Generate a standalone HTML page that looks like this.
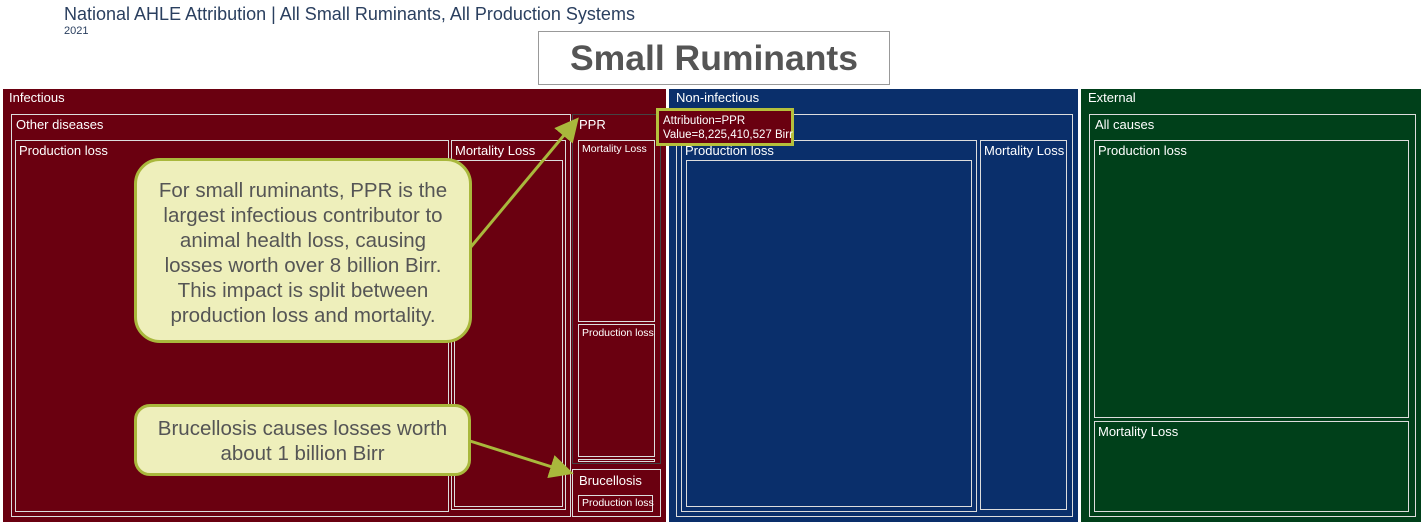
<!DOCTYPE html><html><head><style>
body{margin:0;width:1425px;height:524px;background:#fff;position:relative;overflow:hidden;font-family:"Liberation Sans",sans-serif}
.b{position:absolute;box-sizing:border-box;color:#fff}
.l{font-size:13px;padding:2px 0 0 4px;white-space:nowrap}
.w{border:1px solid #ddd}
.c{position:absolute;box-sizing:border-box;background:#eeefbb;border:3px solid #a9b83c;border-radius:26px;color:#555;font-size:20.5px;text-align:center;line-height:25px}
</style></head><body>
<div style="position:absolute;left:64px;top:4px;font-size:18px;color:#2a3f5f">National AHLE Attribution | All Small Ruminants, All Production Systems</div>
<div style="position:absolute;left:64px;top:25px;font-size:11px;color:#2a3f5f">2021</div>
<div style="position:absolute;left:538px;top:31px;width:352px;height:54px;box-sizing:border-box;border:1px solid #999;text-align:center;font-size:35.5px;font-weight:bold;color:#555;line-height:52px">Small Ruminants</div>

<div class="b" style="left:3px;top:89px;width:663px;height:433px;background:#6a0010"><div class="l" style="padding:1px 0 0 6px">Infectious</div></div>
<div class="b w" style="left:11px;top:114px;width:560px;height:403px"><div class="l">Other diseases</div></div>
<div class="b w" style="left:15px;top:140px;width:434px;height:372px"><div class="l" style="padding-left:3px">Production loss</div></div>
<div class="b w" style="left:451px;top:140px;width:115px;height:370px"><div class="l" style="padding-left:3px">Mortality Loss</div></div>
<div class="b w" style="left:454px;top:160px;width:109px;height:347px"></div>
<div class="b" style="left:572px;top:114px;width:89px;height:350px;border:1px solid #444"><div class="l" style="padding-left:6px">PPR</div></div>
<div class="b w" style="left:578px;top:140px;width:77px;height:182px"><div class="l" style="font-size:10.5px;padding-left:3px">Mortality Loss</div></div>
<div class="b w" style="left:578px;top:324px;width:77px;height:133px"><div class="l" style="font-size:10.5px;padding-left:3px">Production loss</div></div>
<div class="b w" style="left:578px;top:459px;width:77px;height:3px"></div>
<div class="b w" style="left:572px;top:469px;width:89px;height:48px"><div class="l" style="padding:3px 0 0 6px">Brucellosis</div></div>
<div class="b w" style="left:578px;top:495px;width:75px;height:17px"><div class="l" style="font-size:10.5px;padding:1px 0 0 3px">Production loss</div></div>

<div class="b" style="left:669px;top:89px;width:409px;height:433px;background:#0a2f6b"><div class="l" style="padding:1px 0 0 7px">Non-infectious</div></div>
<div class="b w" style="left:676px;top:114px;width:397px;height:403px"></div>
<div class="b w" style="left:681px;top:140px;width:296px;height:372px"><div class="l" style="padding-left:3px">Production loss</div></div>
<div class="b w" style="left:686px;top:160px;width:286px;height:347px"></div>
<div class="b w" style="left:980px;top:140px;width:87px;height:370px"><div class="l" style="padding-left:3px">Mortality Loss</div></div>

<div class="b" style="left:1081px;top:89px;width:340px;height:433px;background:#00401a"><div class="l" style="padding:1px 0 0 7px">External</div></div>
<div class="b w" style="left:1089px;top:114px;width:327px;height:403px"><div class="l" style="padding-left:5px">All causes</div></div>
<div class="b w" style="left:1094px;top:140px;width:315px;height:278px"><div class="l" style="padding-left:3px">Production loss</div></div>
<div class="b w" style="left:1094px;top:421px;width:315px;height:91px"><div class="l" style="padding-left:3px">Mortality Loss</div></div>

<div class="b" style="left:656px;top:108px;width:138px;height:38px;background:#6a0010;border:3px solid #b5c03c;font-size:11.5px;line-height:14px;padding:3px 0 0 4px;white-space:nowrap">Attribution=PPR<br>Value=8,225,410,527 Birr</div>

<svg style="position:absolute;left:0;top:0" width="1425" height="524"><defs><marker id="a" markerWidth="8" markerHeight="8" refX="6" refY="4" orient="auto"><path d="M0,0L8,4L0,8z" fill="#a9b83c"/></marker></defs>
<line x1="470" y1="248" x2="575" y2="122" stroke="#a9b83c" stroke-width="3" marker-end="url(#a)"/>
<line x1="470" y1="441" x2="568" y2="472" stroke="#a9b83c" stroke-width="3" marker-end="url(#a)"/></svg>

<div class="c" style="left:134px;top:158px;width:338px;height:185px;padding-top:17px">For small ruminants, PPR is the<br>largest infectious contributor to<br>animal health loss, causing<br>losses worth over 8 billion Birr.<br>This impact is split between<br>production loss and mortality.</div>
<div class="c" style="left:134px;top:404px;width:337px;height:72px;padding-top:9px;border-radius:16px">Brucellosis causes losses worth<br>about 1 billion Birr</div>
</body></html>
